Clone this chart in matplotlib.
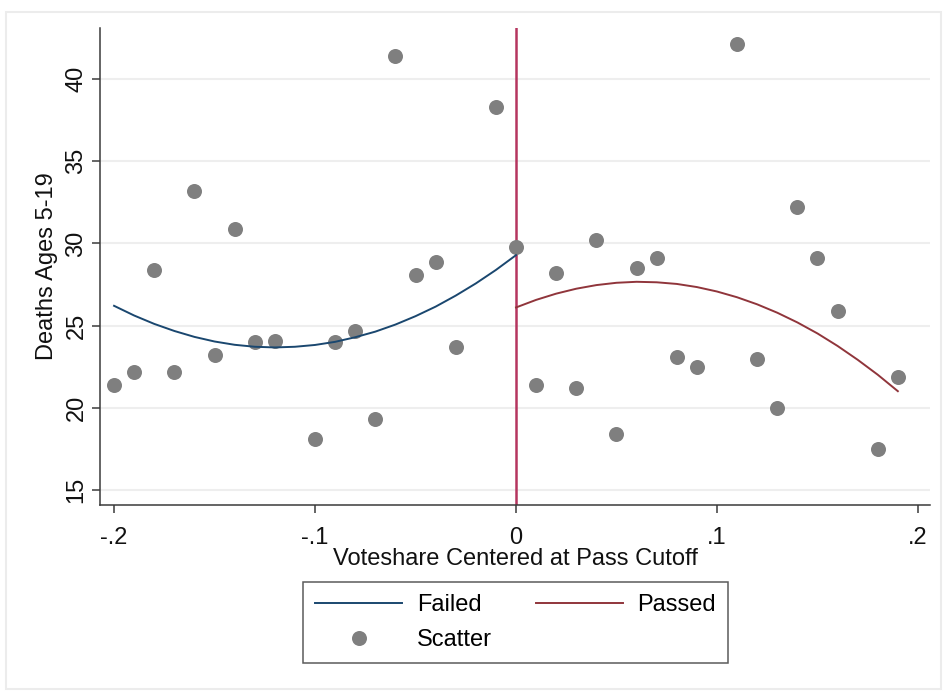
import matplotlib
matplotlib.use("Agg")
import matplotlib.pyplot as plt
from matplotlib.lines import Line2D
from matplotlib.patches import Rectangle

plt.rcParams['font.family'] = ['Liberation Sans', 'DejaVu Sans']

# binned scatter: voteshare bin vs deaths
x_pts = [-0.20, -0.19, -0.18, -0.17, -0.16, -0.15, -0.14, -0.13, -0.12, -0.10,
         -0.09, -0.08, -0.07, -0.06, -0.05, -0.04, -0.03, -0.01, 0.00,
         0.01, 0.02, 0.03, 0.04, 0.05, 0.06, 0.07, 0.08, 0.09, 0.11,
         0.12, 0.13, 0.14, 0.15, 0.16, 0.18, 0.19]
y_pts = [21.4, 22.2, 28.4, 22.2, 33.2, 23.2, 30.9, 24.0, 24.1, 18.1,
         24.0, 24.7, 19.3, 41.4, 28.1, 28.9, 23.7, 38.3, 29.8,
         21.4, 28.2, 21.2, 30.2, 18.4, 28.5, 29.1, 23.1, 22.5, 42.1,
         23.0, 20.0, 32.2, 29.1, 25.9, 17.5, 21.9]

# quadratic fit below the cutoff
failed_x = [-0.20, -0.19, -0.18, -0.17, -0.16, -0.15, -0.14, -0.13, -0.12, -0.11,
            -0.10, -0.09, -0.08, -0.07, -0.06, -0.05, -0.04, -0.03, -0.02, -0.01, 0.00]
failed_y = [26.21, 25.62, 25.11, 24.68, 24.32, 24.04, 23.84, 23.72, 23.68, 23.72,
            23.83, 24.02, 24.30, 24.64, 25.07, 25.58, 26.16, 26.83, 27.57, 28.39, 29.29]

# quadratic fit above the cutoff
passed_x = [0.00, 0.01, 0.02, 0.03, 0.04, 0.05, 0.06, 0.07, 0.08, 0.09,
            0.10, 0.11, 0.12, 0.13, 0.14, 0.15, 0.16, 0.17, 0.18, 0.19]
passed_y = [26.11, 26.57, 26.95, 27.25, 27.47, 27.61, 27.67, 27.64, 27.54, 27.35,
            27.08, 26.73, 26.30, 25.79, 25.20, 24.53, 23.77, 22.93, 22.02, 21.02]

xticks = [-0.2, -0.1, 0.0, 0.1, 0.2]
xtick_labels = ['-.2', '-.1', '0', '.1', '.2']
yticks = [15, 20, 25, 30, 35, 40]

navy = '#1a476f'
maroon = '#90353b'
cutoff_col = '#b5355f'
dot_col = '#7f7f7f'
axis_col = '#3a3a3a'
fs = 17

fig = plt.figure(figsize=(9.48, 6.91), dpi=100)
fig.patches.append(Rectangle((6 / 948, 1 - 689 / 691), 935 / 948, 677 / 691,
                             transform=fig.transFigure, fill=False,
                             edgecolor='#ececec', lw=1.5))

ax = fig.add_axes([100 / 948, 1 - 505 / 691, 830 / 948, 477 / 691])

ax.axvline(0, color=cutoff_col, lw=1.8, zorder=2)
ax.plot(x_pts, y_pts, 'o', color=dot_col, ms=10.8, mec='none', zorder=3)
ax.plot(failed_x, failed_y, color=navy, lw=1.4, zorder=4)
ax.plot(passed_x, passed_y, color=maroon, lw=1.4, zorder=4)

ax.set_xlim(-0.207, 0.206)
ax.set_ylim(14.1, 43.1)
ax.set_xticks(xticks)
ax.set_xticklabels(xtick_labels)
ax.set_yticks(yticks)
ax.yaxis.grid(True, color='#eeeeee', lw=1.5)
ax.set_axisbelow(True)

for side in ['top', 'right']:
    ax.spines[side].set_visible(False)
for side in ['left', 'bottom']:
    ax.spines[side].set_color(axis_col)
    ax.spines[side].set_linewidth(1.1)

ax.tick_params(axis='both', colors=axis_col, labelcolor='#111111',
               labelsize=fs, length=6, width=1.1)
ax.tick_params(axis='x', pad=10)
ax.tick_params(axis='y', pad=11)
for lbl in ax.get_yticklabels():
    lbl.set_rotation(90)
    lbl.set_ha('center')
    lbl.set_va('center')

ax.set_xlabel('Voteshare Centered at Pass Cutoff', fontsize=fs, color='#111111', labelpad=-1)
ax.set_ylabel('Deaths Ages 5-19', fontsize=fs, color='#111111')
ax.yaxis.set_label_coords(-0.050, 0.5)

handles = [
    Line2D([], [], color=navy, lw=1.4),
    Line2D([], [], ls='none', marker='o', color=dot_col, ms=10.8, mec='none'),
    Line2D([], [], color=maroon, lw=1.4),
]
labels = ['Failed', 'Scatter', 'Passed']
leg = fig.legend(handles, labels, ncol=2, loc='center',
                 bbox_to_anchor=(515.5 / 948, 1 - 622.5 / 691),
                 fontsize=fs, frameon=True, fancybox=False,
                 handlelength=3.7, handletextpad=0.62, columnspacing=1.85,
                 labelspacing=0.55, borderpad=0.5)
leg.get_frame().set_edgecolor('#333333')
leg.get_frame().set_linewidth(1.1)

fig.savefig('out.png', dpi=100)
